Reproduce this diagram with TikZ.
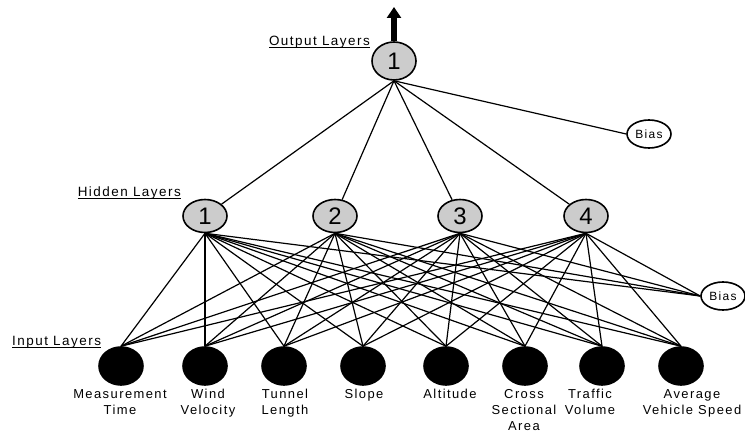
\documentclass[tikz,border=0pt]{standalone}
\usepackage{fontspec}
\setmainfont{Liberation Sans}[LetterSpace=11]
\usetikzlibrary{shapes.geometric,arrows.meta}
\newcommand\layerul[1]{\underline{\smash{#1}}}

\begin{document}
\begin{tikzpicture}[x=1bp,y=-1bp,
  neuron/.style={ellipse,draw,line width=1.6bp,inner sep=0pt,minimum width=44bp},
  hidunit/.style={neuron,fill=gray!40,minimum height=33bp,font=\fontsize{24}{24}\selectfont},
  inunit/.style={neuron,fill=black,minimum height=38bp},
  biasunit/.style={neuron,fill=white,minimum height=28bp,font=\fontsize{12}{12}\selectfont},
  layertext/.style={inner sep=0pt,font=\fontsize{13.5}{14}\selectfont},
  intext/.style={anchor=north,align=center,inner sep=0pt,font=\fontsize{13}{16}\selectfont},
  link/.style={line width=1.2bp}]
\useasboundingbox (0,0) rectangle (745,434);

% output layer
\node[hidunit,minimum height=38bp] (out) at (394,61) {1};
\draw[line width=6.5bp,-{Triangle[width=14bp,length=11bp]}] (out.north) -- (394,7);
\node[layertext,anchor=base east] (outlab) at (370,46) {\layerul{Output Layers}};
\node[biasunit] (b1) at (649,134) {Bias};

% hidden layer
\node[hidunit] (h1) at (205,216) {1};
\node[hidunit] (h2) at (335,216) {2};
\node[hidunit] (h3) at (460,216) {3};
\node[hidunit] (h4) at (586,216) {4};
\node[layertext,anchor=base east] (hidlab) at (181,197) {\layerul{Hidden Layers}};
\node[biasunit] (b2) at (723,296) {Bias};

% input layer
\node[layertext,anchor=base west] (inlab) at (12,346) {\layerul{Input Layers}};
\foreach \x/\tx/\txt [count=\i] in {121/120/Measurement\\Time, 205/208/Wind\\Velocity,
    284/285/Tunnel\\Length, 363/364/Slope, 446/450/Altitude, 525/524/Cross\\Sectional\\Area,
    602/590/Traffic\\Volume, 681/692/Average\\Vehicle Speed}{
  \node[inunit] (in\i) at (\x,366) {};
  \node[intext] (intxt\i) at (\tx,389) {\txt};
}

% connections
\foreach \h in {1,...,4}
  \draw[link] (out.south) -- (h\h);
\draw[link] (out.south) -- (b1.west);
\foreach \h in {1,...,4}{
  \foreach \i in {1,...,8}
    \draw[link] (h\h.south) -- (in\i.north);
  \draw[link] (h\h.south) -- (b2.west);
}
\end{tikzpicture}
\end{document}
